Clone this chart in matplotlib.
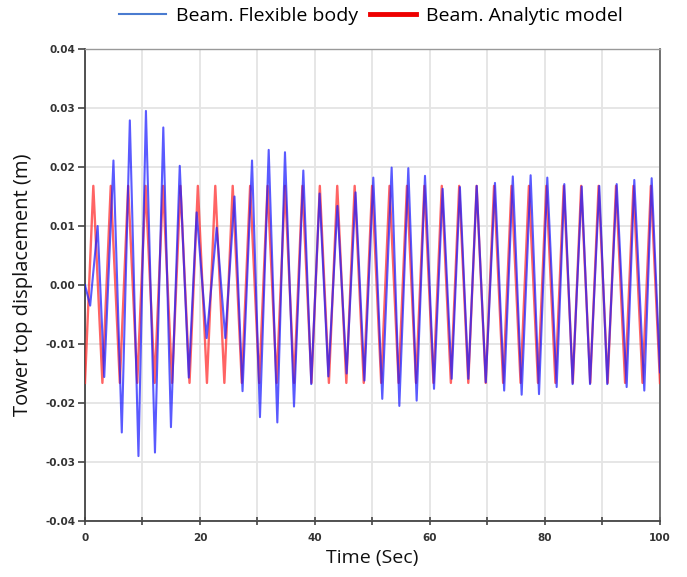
import numpy as np
import matplotlib
matplotlib.use("Agg")
import matplotlib.pyplot as plt
from matplotlib.ticker import MultipleLocator, FuncFormatter
from matplotlib.lines import Line2D

# Beam. Analytic model: peak / trough times (sec) and levels (m)
red_peak_t = [1.45, 4.48, 7.51, 10.54, 13.57, 16.60, 19.63, 22.66, 25.69, 28.72,
              31.75, 34.78, 37.81, 40.84, 43.87, 46.90, 49.93, 52.96, 55.99, 59.02,
              62.05, 65.08, 68.11, 71.14, 74.17, 77.20, 80.23, 83.26, 86.29, 89.32,
              92.35, 95.38, 98.41]
red_trough_t = [0.0, 3.03, 6.06, 9.09, 12.12, 15.15, 18.18, 21.21, 24.24, 27.27,
                30.30, 33.33, 36.36, 39.39, 42.42, 45.45, 48.48, 51.51, 54.54, 57.57,
                60.60, 63.63, 66.66, 69.69, 72.72, 75.75, 78.78, 81.81, 84.84, 87.87,
                90.90, 93.93, 96.96, 100.0]
red_peak_v = 0.0168
red_trough_v = -0.0166

# Beam. Flexible body: turning points
blue_t = [0.0, 0.9, 2.2, 3.35, 4.95, 6.4, 7.8, 9.3, 10.6, 12.17,
          13.62, 14.95, 16.48, 18.05, 19.42, 21.16, 22.9, 24.4, 26.0, 27.4,
          29.05, 30.43, 31.95, 33.45, 34.78, 36.35, 37.97, 39.35, 40.8, 42.32,
          43.9, 45.5, 47.05, 48.6, 50.14, 51.7, 53.33, 54.67, 56.23, 57.68,
          59.13, 60.7, 62.2, 63.77, 65.2, 66.67, 68.12, 69.7, 71.3, 72.9,
          74.4, 75.94, 77.5, 78.96, 80.4, 82.03, 83.36, 84.8, 86.38, 87.83,
          89.44, 90.83, 92.47, 94.2, 95.53, 97.27, 98.55, 100.0]
blue_v = [0.0, -0.0035, 0.0100, -0.0156, 0.0211, -0.0250, 0.0279, -0.0290, 0.0295, -0.0284,
          0.0267, -0.0241, 0.0202, -0.0157, 0.0123, -0.0090, 0.0097, -0.0090, 0.0150, -0.0180,
          0.0211, -0.0224, 0.0229, -0.0233, 0.0225, -0.0206, 0.0194, -0.0168, 0.0155, -0.0155,
          0.0134, -0.0150, 0.0157, -0.0162, 0.0182, -0.0193, 0.0199, -0.0205, 0.0198, -0.0196,
          0.0185, -0.0176, 0.0163, -0.0159, 0.0166, -0.0159, 0.0168, -0.0165, 0.0173, -0.0179,
          0.0184, -0.0186, 0.0186, -0.0185, 0.0182, -0.0173, 0.0171, -0.0168, 0.0167, -0.0168,
          0.0168, -0.0168, 0.0171, -0.0173, 0.0178, -0.0179, 0.0181, -0.0148]

# merge red peaks and troughs into one time-ordered series
red = sorted([(t, red_peak_v) for t in red_peak_t] + [(t, red_trough_v) for t in red_trough_t])
red_t = [p[0] for p in red]
red_v = [p[1] for p in red]

fig = plt.figure(figsize=(6.87, 5.77), dpi=100)
ax = fig.add_axes([0.1237, 0.0971, 0.837, 0.818])

ax.plot(red_t, red_v, color="#ff3030", lw=1.7, alpha=0.75, zorder=3)
ax.plot(blue_t, blue_v, color="#1a1aff", lw=1.5, alpha=0.72, zorder=4)

ax.set_xlim(0, 100)
ax.set_ylim(-0.04, 0.04)
ax.xaxis.set_major_locator(MultipleLocator(10))
ax.yaxis.set_major_locator(MultipleLocator(0.01))
ax.xaxis.set_major_formatter(FuncFormatter(lambda v, p: "%d" % v if int(round(v)) % 20 == 0 else ""))
ax.yaxis.set_major_formatter(FuncFormatter(lambda v, p: ("%.2f" % v).replace("\u2212", "-")))

ax.grid(True, color="#e4e4e4", lw=1.3, zorder=0)
ax.set_axisbelow(True)

ax.tick_params(axis="x", direction="inout", length=6, width=1.2, color="#444444",
               labelsize=7.5, labelcolor="#333333", pad=6)
ax.tick_params(axis="y", direction="out", length=5, width=1.2, color="#444444",
               labelsize=7.5, labelcolor="#333333", pad=2)
for lab in ax.get_xticklabels() + ax.get_yticklabels():
    lab.set_fontweight("bold")

ax.spines["left"].set_color("#444444")
ax.spines["bottom"].set_color("#444444")
ax.spines["right"].set_color("#666666")
ax.spines["top"].set_color("#999999")
for s in ["left", "bottom", "right"]:
    ax.spines[s].set_linewidth(1.3)
ax.spines["top"].set_linewidth(1.0)

ax.set_xlabel("Time (Sec)", fontsize=14, family="Open Sans", color="#111111", labelpad=4)
ax.set_ylabel("Tower top displacement (m)", fontsize=14.5, family="Open Sans", color="#111111", labelpad=9)

handles = [Line2D([], [], color="#4a7bd0", lw=1.5),
           Line2D([], [], color="#ee0000", lw=3.5)]
fig.legend(handles, ["Beam. Flexible body", "Beam. Analytic model"],
           loc="upper center", bbox_to_anchor=(0.54, 1.018), ncol=2, frameon=False,
           prop={"family": "Open Sans", "size": 14}, handlelength=2.4,
           handletextpad=0.5, columnspacing=0.6)

fig.savefig("out.png", dpi=100)
